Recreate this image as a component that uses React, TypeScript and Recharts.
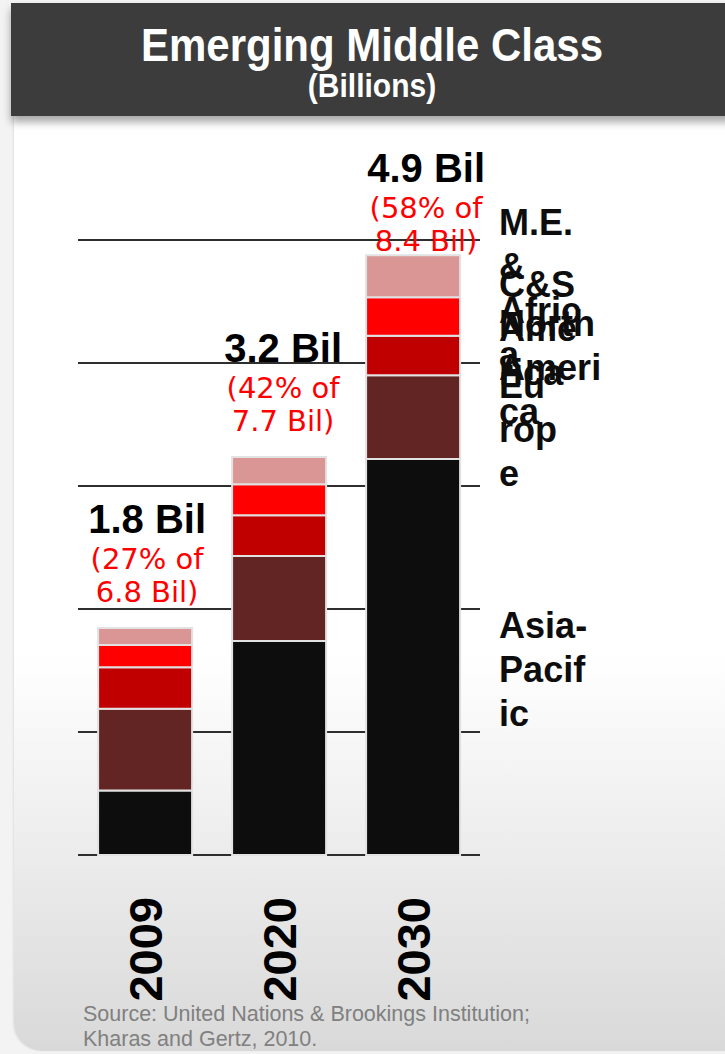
import React from "react";
import { BarChart, Bar, XAxis, YAxis, CartesianGrid, LabelList } from "recharts";

// ---- data (billions) ----
const years = ["2009", "2020", "2030"];
const asiaPacific = [0.525, 1.74, 3.22];
const europe = [0.664, 0.69, 0.68];
const northAmerica = [0.338, 0.333, 0.322];
const csAmerica = [0.181, 0.251, 0.313];
const meAfrica = [0.137, 0.222, 0.341];

const totalsLabel = ["1.8 Bil", "3.2 Bil", "4.9 Bil"];
const sharePct = [27, 42, 58];
const worldPop = [6.8, 7.7, 8.4];
const yTicks = [0, 1, 2, 3, 4, 5];

const seriesKeys = ["asia", "europe", "na", "csa", "mea"];
const seriesColors: Record<string, string> = {
  asia: "#0d0d0d",
  europe: "#632523",
  na: "#c00000",
  csa: "#ff0000",
  mea: "#d99694",
};
const regionLines: Record<string, string[]> = {
  mea: ["M.E.", "&", "Afric", "a"],
  csa: ["C&S", "Ame", "rica"],
  na: ["North", "Ameri", "ca"],
  europe: ["Eu", "rop", "e"],
  asia: ["Asia-", "Pacif", "ic"],
};

const data = years.map((y, i) => ({
  year: y,
  asia: asiaPacific[i],
  europe: europe[i],
  na: northAmerica[i],
  csa: csAmerica[i],
  mea: meAfrica[i],
}));

// layout constants
const annotDx = [2, 4, 13];
const SANS = "'Liberation Sans', Arial, Helvetica, sans-serif";

const makeRegionLabel = (key: string) => (props: any) => {
  const { x, y, width, height, index } = props;
  if (index !== years.length - 1) return null;
  const lines = regionLines[key];
  const cy = Number(y) + Number(height) / 2;
  const first = cy + 25 - (lines.length - 1) * 22;
  return (
    <g>
      {lines.map((t, k) => (
        <text
          key={k}
          x={Number(x) + Number(width) + 39}
          y={first + k * 44}
          fontFamily={SANS}
          fontWeight="bold"
          fontSize={36}
          fill="#0d0d0d"
        >
          {t}
        </text>
      ))}
    </g>
  );
};

const TopAnnotation = (props: any) => {
  const { x, y, width, index } = props;
  const cx = Number(x) + Number(width) / 2 + annotDx[index];
  const base = Math.max(Number(y) - 95, 182);
  return (
    <g>
      <text x={cx} y={base} textAnchor="middle" fontFamily={SANS} fontWeight="bold" fontSize={40} fill="#000">
        {totalsLabel[index]}
      </text>
      <text x={cx} y={base + 36} textAnchor="middle" fontFamily="'DejaVu Sans', Verdana, sans-serif" fontSize={29} fill="#ff0000">
        {`(${sharePct[index]}% of`}
      </text>
      <text x={cx} y={base + 69} textAnchor="middle" fontFamily="'DejaVu Sans', Verdana, sans-serif" fontSize={29} fill="#ff0000">
        {`${worldPop[index]} Bil)`}
      </text>
    </g>
  );
};

const YearTick = (props: any) => {
  const { x, payload } = props;
  const ax = Number(x);
  const ay = 897;
  return (
    <text
      x={ax}
      y={ay}
      transform={`rotate(-90, ${ax}, ${ay})`}
      textAnchor="end"
      dominantBaseline="central"
      fontFamily={SANS}
      fontWeight="bold"
      fontSize={47}
      fill="#000"
    >
      {payload.value}
    </text>
  );
};

export default function App() {
  return (
    <div
      style={{
        position: "absolute",
        left: 0,
        top: 0,
        width: 725,
        height: 1054,
        overflow: "hidden",
        background: "#f3f3f3",
      }}
    >
      {/* panel */}
      <div
        style={{
          position: "absolute",
          left: 14,
          top: 110,
          width: 740,
          height: 941,
          borderBottomLeftRadius: 28,
          background: "linear-gradient(to bottom, #ffffff 0%, #ffffff 58%, #d9d9d9 100%)",
          boxShadow: "-1px 0 2px rgba(0,0,0,0.08)",
        }}
      />
      {/* title bar */}
      <div
        style={{
          position: "absolute",
          left: 11,
          top: 3,
          width: 730,
          height: 113,
          background: "#3c3c3c",
          boxShadow: "0 6px 8px rgba(0,0,0,0.35)",
          color: "#fff",
          fontFamily: SANS,
          fontWeight: "bold",
          textAlign: "center",
        }}
      >
        <div style={{ position: "absolute", left: 0, width: 722, top: 18, fontSize: 42, lineHeight: "48px", transform: "scaleY(1.12)" }}>
          Emerging Middle Class
        </div>
        <div style={{ position: "absolute", left: 0, width: 722, top: 66, fontSize: 30, lineHeight: "34px", transform: "scaleY(1.1)" }}>
          (Billions)
        </div>
      </div>
      <div style={{ position: "absolute", left: 0, top: 0 }}>
        <BarChart
          width={725}
          height={1054}
          data={data}
          margin={{ top: 240, right: 245, bottom: 0, left: 78 }}
          barCategoryGap="15%"
        >
          <CartesianGrid vertical={false} stroke="#2e2e2e" strokeWidth={2} />
          <YAxis hide domain={[0, 5]} ticks={yTicks} type="number" />
          <XAxis
            dataKey="year"
            height={199}
            axisLine={false}
            tickLine={false}
            tick={<YearTick />}
            interval={0}
          />
          {seriesKeys.map((k) => (
            <Bar
              key={k}
              dataKey={k}
              stackId="a"
              fill={seriesColors[k]}
              stroke="#e2e2e2"
              strokeWidth={2}
              isAnimationActive={false}
            >
              <LabelList dataKey={k} content={makeRegionLabel(k)} />
              {k === "mea" ? <LabelList dataKey={k} content={<TopAnnotation />} /> : null}
            </Bar>
          ))}
        </BarChart>
      </div>
      {/* source */}
      <div
        style={{
          position: "absolute",
          left: 83,
          top: 1002,
          fontFamily: SANS,
          fontSize: 21.5,
          lineHeight: "25px",
          color: "#808080",
          whiteSpace: "nowrap",
        }}
      >
        Source: United Nations &amp; Brookings Institution;
        <br />
        Kharas and Gertz, 2010.
      </div>
    </div>
  );
}
